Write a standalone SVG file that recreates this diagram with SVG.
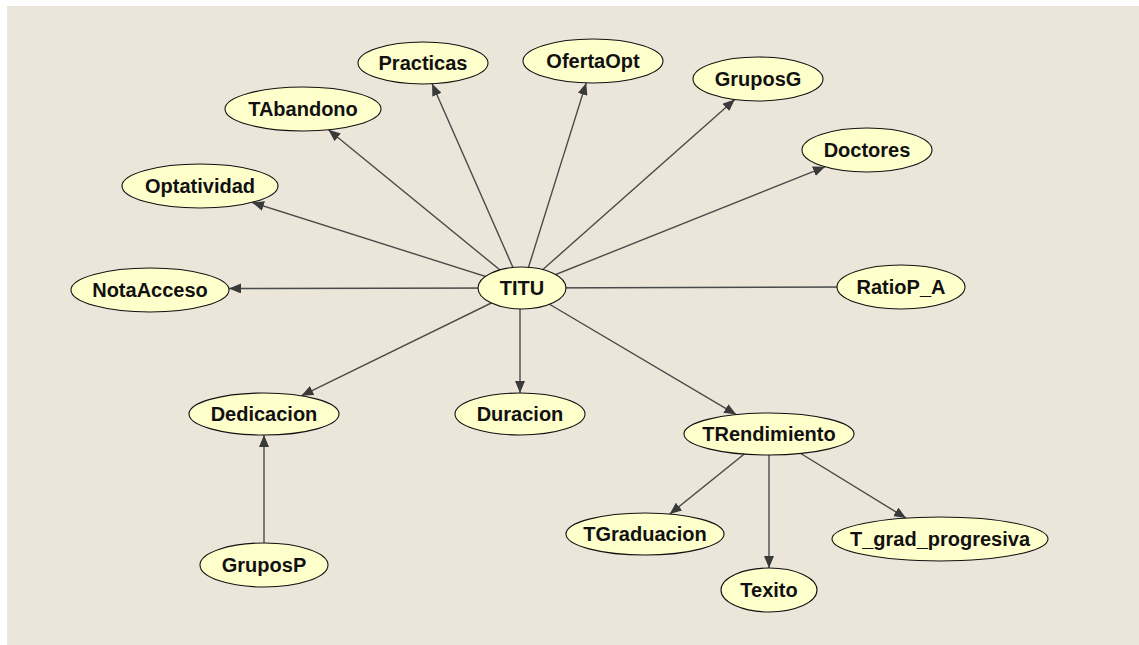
<svg xmlns="http://www.w3.org/2000/svg" width="1139" height="645" viewBox="0 0 1139 645">
  <defs>
    <marker id="arrow" viewBox="0 0 12 10" refX="12" refY="5" markerWidth="12" markerHeight="10" markerUnits="userSpaceOnUse" orient="auto">
      <path d="M0,0 L12,5 L0,10 Z" fill="#3a3a3a"/>
    </marker>
    <style>
      .edge { stroke: #4a4a4a; stroke-width: 1.4; fill: none; }
      .arr { marker-end: url(#arrow); }
      .node ellipse { fill: #FFFFCC; stroke: #111; stroke-width: 1.1; }
      .node text { font-family: "Liberation Sans", Arial, sans-serif; font-weight: bold; font-size: 20px; fill: #111; text-anchor: middle; }
    </style>
  </defs>

  <!-- canvas -->
  <rect x="0" y="0" width="1139" height="645" fill="#ffffff"/>
  <rect x="7" y="6" width="1132" height="639" fill="#ECE6DA"/>

  <!-- connectors -->
  <g id="edges">
    <line class="edge arr" x1="522" y1="288" x2="229" y2="288.5"/>
    <line class="edge arr" x1="522" y1="288" x2="252" y2="202.4"/>
    <line class="edge arr" x1="522" y1="288" x2="328.4" y2="129.8"/>
    <line class="edge arr" x1="522" y1="288" x2="432.1" y2="83.8"/>
    <line class="edge arr" x1="522" y1="288" x2="586.2" y2="82.9"/>
    <line class="edge arr" x1="522" y1="288" x2="734.8" y2="99.5"/>
    <line class="edge arr" x1="522" y1="288" x2="825" y2="166.8"/>
    <line class="edge" x1="522" y1="288" x2="850" y2="287"/>
    <line class="edge arr" x1="522" y1="288" x2="301.3" y2="395.8"/>
    <line class="edge arr" x1="520" y1="288" x2="520" y2="393"/>
    <line class="edge arr" x1="522" y1="288" x2="736.2" y2="414.6"/>
    <line class="edge arr" x1="769" y1="434" x2="669.7" y2="514.1"/>
    <line class="edge arr" x1="769" y1="434" x2="769" y2="568"/>
    <line class="edge arr" x1="769" y1="434" x2="906" y2="518.1"/>
    <line class="edge arr" x1="264" y1="565" x2="264" y2="435"/>
  </g>

  <!-- nodes -->
  <g id="TITU" class="node"><ellipse cx="522" cy="288" rx="44" ry="21"/><text x="522" y="295">TITU</text></g>
  <g id="NotaAcceso" class="node"><ellipse cx="150" cy="290" rx="79" ry="22"/><text x="150" y="297">NotaAcceso</text></g>
  <g id="Optatividad" class="node"><ellipse cx="200" cy="186" rx="78" ry="22"/><text x="200" y="193">Optatividad</text></g>
  <g id="TAbandono" class="node"><ellipse cx="303" cy="109" rx="78" ry="22"/><text x="303" y="116">TAbandono</text></g>
  <g id="Practicas" class="node"><ellipse cx="423" cy="63" rx="65" ry="21"/><text x="423" y="70">Practicas</text></g>
  <g id="OfertaOpt" class="node"><ellipse cx="593" cy="61" rx="70" ry="22"/><text x="593" y="68">OfertaOpt</text></g>
  <g id="GruposG" class="node"><ellipse cx="758" cy="79" rx="65" ry="22"/><text x="758" y="86">GruposG</text></g>
  <g id="Doctores" class="node"><ellipse cx="867" cy="150" rx="65" ry="22"/><text x="867" y="157">Doctores</text></g>
  <g id="RatioP_A" class="node"><ellipse cx="901" cy="287" rx="64" ry="22"/><text x="901" y="294">RatioP_A</text></g>
  <g id="Dedicacion" class="node"><ellipse cx="264" cy="414" rx="75" ry="21"/><text x="264" y="421">Dedicacion</text></g>
  <g id="Duracion" class="node"><ellipse cx="520" cy="414" rx="65" ry="21"/><text x="520" y="421">Duracion</text></g>
  <g id="TRendimiento" class="node"><ellipse cx="769" cy="434" rx="85" ry="21"/><text x="769" y="441">TRendimiento</text></g>
  <g id="GruposP" class="node"><ellipse cx="264" cy="565" rx="64" ry="22"/><text x="264" y="572">GruposP</text></g>
  <g id="TGraduacion" class="node"><ellipse cx="645" cy="534" rx="79" ry="21"/><text x="645" y="541">TGraduacion</text></g>
  <g id="Texito" class="node"><ellipse cx="769" cy="590" rx="48" ry="22"/><text x="769" y="597">Texito</text></g>
  <g id="T_grad_progresiva" class="node"><ellipse cx="940" cy="539" rx="108" ry="22"/><text x="940" y="546">T_grad_progresiva</text></g>
</svg>
